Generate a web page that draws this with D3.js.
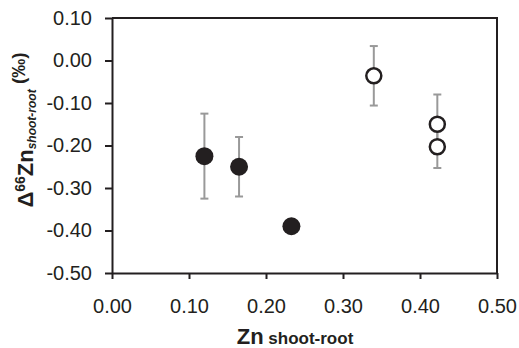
<!DOCTYPE html>
<html>
<head>
<meta charset="utf-8">
<script src="https://cdn.jsdelivr.net/npm/d3@7"></script>
<style>
  body { margin: 0; background: #fff; }
  text { font-family: "Liberation Sans", Arial, sans-serif; fill: #231f20; }
</style>
</head>
<body>
<div id="chart"></div>
<script>
// Zn shoot-root vs delta66Zn shoot-root
var znShootRoot = [0.12, 0.165, 0.233, 0.34, 0.4225, 0.4225];
var deltaZn = [-0.225, -0.25, -0.39, -0.036, -0.15, -0.203];
var errBar = [0.10, 0.07, 0.01, 0.07, 0.07, 0.05];
var group = ['filled', 'filled', 'filled', 'open', 'open', 'open'];

var xTicks = [0, 0.1, 0.2, 0.3, 0.4, 0.5];
var yTicks = [0.1, 0, -0.1, -0.2, -0.3, -0.4, -0.5];

var svgWidth = 519
var svgHeight = 348
var margin = {left: 112, right: 22, top: 18, bottom: 75}
var axisColor = '#231f20'

// excel style labels, plain hyphen for minus
var fmt = function(d) { return d3.format('.2f')(d).replace('−', '-') }

var svg = d3.select('#chart')
    .append('svg')
    .attr('width', svgWidth)
    .attr('height', svgHeight)

var x = d3.scaleLinear().domain([0, 0.5]).range([margin.left, svgWidth - margin.right])
var y = d3.scaleLinear().domain([-0.5, 0.1]).range([svgHeight - margin.bottom, margin.top])

// frame (top + right)
svg.append('path')
    .attr('d', 'M' + x(0) + ',' + y(0.1) + 'H' + x(0.5) + 'V' + y(-0.5))
    .attr('fill', 'none')
    .attr('stroke', axisColor)
    .attr('stroke-width', 2)

var xAxis = svg.append('g')
    .attr('transform', 'translate(0,' + y(-0.5) + ')')
    .call(d3.axisBottom(x).tickValues(xTicks).tickFormat(fmt).tickSize(6).tickSizeOuter(0).tickPadding(20))

var yAxis = svg.append('g')
    .attr('transform', 'translate(' + x(0) + ',0)')
    .call(d3.axisLeft(y).tickValues(yTicks).tickFormat(fmt).tickSize(7).tickSizeOuter(0).tickPadding(13))

svg.selectAll('.domain, .tick line')
    .attr('stroke', axisColor)
    .attr('stroke-width', 2)
svg.selectAll('.tick text')
    .style('font-size', '20px')
    .style('font-family', '"Liberation Sans", Arial, sans-serif')
    .attr('fill', '#231f20')

// error bars
var bars = svg.selectAll('.err')
    .data(deltaZn)
    .enter()
    .append('g')
    .attr('stroke', '#999')
    .attr('stroke-width', 2)

bars.append('line')
    .attr('x1', function(d, i) { return x(znShootRoot[i]) })
    .attr('x2', function(d, i) { return x(znShootRoot[i]) })
    .attr('y1', function(d, i) { return y(d + errBar[i]) })
    .attr('y2', function(d, i) { return y(d - errBar[i]) })
bars.append('line')
    .attr('x1', function(d, i) { return x(znShootRoot[i]) - 4 })
    .attr('x2', function(d, i) { return x(znShootRoot[i]) + 4 })
    .attr('y1', function(d, i) { return y(d + errBar[i]) })
    .attr('y2', function(d, i) { return y(d + errBar[i]) })
bars.append('line')
    .attr('x1', function(d, i) { return x(znShootRoot[i]) - 4 })
    .attr('x2', function(d, i) { return x(znShootRoot[i]) + 4 })
    .attr('y1', function(d, i) { return y(d - errBar[i]) })
    .attr('y2', function(d, i) { return y(d - errBar[i]) })

// points
svg.selectAll('circle')
    .data(deltaZn)
    .enter()
    .append('circle')
    .attr('cx', function(d, i) { return x(znShootRoot[i]) })
    .attr('cy', function(d) { return y(d) })
    .attr('r', function(d, i) { return group[i] == 'filled' ? 9 : 7.5 })
    .attr('fill', function(d, i) { return group[i] == 'filled' ? '#231f20' : '#fff' })
    .attr('stroke', '#231f20')
    .attr('stroke-width', function(d, i) { return group[i] == 'filled' ? 0 : 2.5 })

// x title
var xt = svg.append('text')
    .attr('x', 295)
    .attr('y', 344)
    .attr('text-anchor', 'middle')
    .style('font-weight', 'bold')
xt.append('tspan').text('Zn').style('font-size', '22px')
xt.append('tspan').text(' shoot-root').style('font-size', '17px')

// y title
var yt = svg.append('text')
    .attr('transform', 'translate(33,130) rotate(-90)')
    .attr('text-anchor', 'middle')
    .style('font-weight', 'bold')
yt.append('tspan').text('Δ').style('font-size', '22px')
yt.append('tspan').text('66').style('font-size', '14px').attr('dy', -8)
yt.append('tspan').text('Zn').style('font-size', '22px').attr('dy', 8)
yt.append('tspan').text('shoot-root').style('font-size', '12px').style('font-style', 'italic').attr('dy', 3)
yt.append('tspan').text(' (‰)').style('font-size', '19px').attr('dy', -11)
</script>
</body>
</html>
